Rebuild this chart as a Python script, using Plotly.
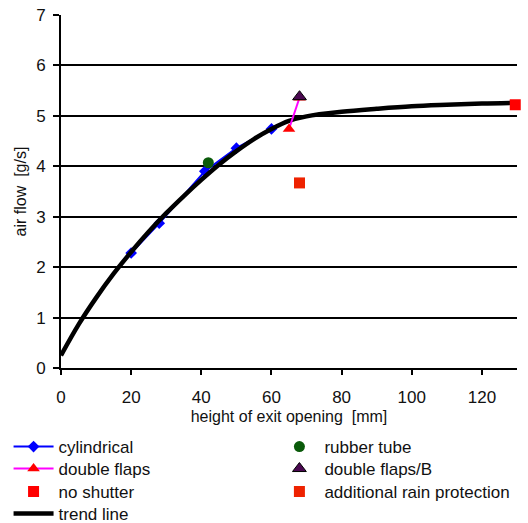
import plotly.graph_objects as go

# ---- data ----
cyl_x = [20, 28, 41, 50, 60]
cyl_y = [2.28, 2.87, 3.9, 4.36, 4.74]

rubber_x = [42]
rubber_y = [4.07]

dflaps_x = [65, 68]
dflaps_y = [4.74, 5.36]

dflapsB_x = [68]
dflapsB_y = [5.38]

noshut_x = [129.5]
noshut_y = [5.22]

rain_x = [68]
rain_y = [3.67]

trend_x = [0, 5, 10, 15, 20, 25, 30, 35, 40, 45, 50, 55, 60, 65, 70, 80, 90, 100, 110, 120, 130]
trend_y = [0.25, 0.86, 1.39, 1.87, 2.30, 2.70, 3.07, 3.41, 3.73, 4.03, 4.30, 4.54, 4.74, 4.90,
           4.99, 5.08, 5.14, 5.19, 5.22, 5.245, 5.26]

x_ticks = [0, 20, 40, 60, 80, 100, 120]
y_ticks = [0, 1, 2, 3, 4, 5, 6, 7]

FONT = "Liberation Sans, Arial, sans-serif"
LEG_FONT = 17

fig = go.Figure()

fig.add_trace(go.Scatter(x=cyl_x, y=cyl_y, name="cylindrical", mode="lines+markers",
                         line=dict(color="#0000ff", width=2),
                         marker=dict(symbol="diamond", size=9, color="#0000ff"),
                         legend="legend", cliponaxis=False))
fig.add_trace(go.Scatter(x=rubber_x, y=rubber_y, name="rubber tube", mode="markers",
                         marker=dict(symbol="circle", size=11, color="#0a5a0a"),
                         legend="legend2", cliponaxis=False))
fig.add_trace(go.Scatter(x=trend_x, y=trend_y, name="trend line", mode="lines",
                         line=dict(color="#000000", width=4.5, shape="spline"),
                         legend="legend3", cliponaxis=False))
fig.add_trace(go.Scatter(x=dflaps_x, y=dflaps_y, name="double flaps", mode="lines+markers",
                         line=dict(color="#ff00ff", width=2),
                         marker=dict(symbol="triangle-up", size=11, color="#ff0000"),
                         legend="legend4", cliponaxis=False))
fig.add_trace(go.Scatter(x=dflapsB_x, y=dflapsB_y, name="double flaps/B", mode="markers",
                         marker=dict(symbol="triangle-up", size=12, color="#4a0850",
                                     line=dict(color="#000000", width=1)),
                         legend="legend5", cliponaxis=False))
fig.add_trace(go.Scatter(x=noshut_x, y=noshut_y, name="no shutter", mode="markers",
                         marker=dict(symbol="square", size=11, color="#ff0000"),
                         legend="legend6", cliponaxis=False))
fig.add_trace(go.Scatter(x=rain_x, y=rain_y, name="additional rain protection", mode="markers",
                         marker=dict(symbol="square", size=11, color="#ee2200"),
                         legend="legend7", cliponaxis=False))


def leg(x, y):
    return dict(x=x, y=y, xanchor="left", yanchor="middle", orientation="v",
                itemwidth=40, font=dict(size=LEG_FONT), bgcolor="rgba(0,0,0,0)",
                borderwidth=0)


col1, col2 = -0.115, 0.468
rows = [-0.2238, -0.2861, -0.3513, -0.4136]

fig.update_layout(
    width=528, height=523,
    margin=dict(l=61, r=11, t=15, b=155, autoexpand=False),
    paper_bgcolor="white", plot_bgcolor="white",
    font=dict(family=FONT, size=16, color="#111111"),
    showlegend=True,
    legend=leg(col1, rows[0]),
    legend2=leg(col2, rows[0]),
    legend4=leg(col1, rows[1]),
    legend5=leg(col2, rows[1]),
    legend6=leg(col1, rows[2]),
    legend7=leg(col2, rows[2]),
    legend3=leg(col1, rows[3]),
    xaxis=dict(range=[0, 130], tickvals=x_ticks, showgrid=False, zeroline=False,
               showline=True, linecolor="#000000", linewidth=2,
               ticks="outside", ticklen=5, tickwidth=2, tickcolor="#000000",
               ticklabelstandoff=8, tickfont=dict(size=17),
               title=dict(text="height of exit opening  [mm]", font=dict(size=16), standoff=4)),
    yaxis=dict(range=[0, 7], tickvals=y_ticks, showgrid=True, gridcolor="#000000", gridwidth=1.5,
               zeroline=False, showline=True, linecolor="#000000", linewidth=2,
               ticks="outside", ticklen=6, tickwidth=2, tickcolor="#000000",
               ticklabelstandoff=4, tickfont=dict(size=17),
               title=dict(text="air flow  [g/s]", font=dict(size=16), standoff=6)),
)

fig.write_html("out.html")
